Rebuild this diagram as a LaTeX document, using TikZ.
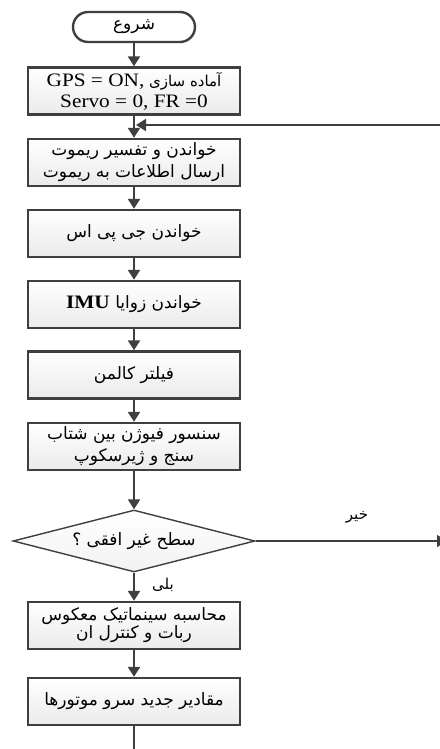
\documentclass[tikz,border=0pt]{standalone}
\usepackage{fontspec}
\newfontfamily\fa[Script=Arabic]{DejaVu Sans}
\newfontfamily\lat[FakeStretch=1.12]{Liberation Serif}
\TeXXeTstate=1
\usetikzlibrary{arrows.meta,shapes.geometric}
\definecolor{ln}{HTML}{3F3F3F}
\newcommand{\latbig}{\lat\fontsize{19}{21}\selectfont}
\tikzset{
  base/.style={draw=ln, line width=2.4pt, text=black, font=\fa\fontsize{17}{22}\selectfont, align=center, inner sep=0pt},
  procbox/.style={base, rectangle, minimum width=212pt, minimum height=47pt, top color=white, bottom color=black!8},
  term/.style={base, rectangle, rounded corners=15pt, minimum width=122pt, minimum height=30pt, fill=white},
  decision/.style={base, diamond, aspect=3.9, minimum width=242pt, minimum height=62pt, top color=white, bottom color=black!5, line width=1.4pt},
  arr/.style={draw=ln, line width=2.4pt, -{Triangle[width=12pt,length=10pt]}},
  plainline/.style={draw=ln, line width=2.4pt},
  lbl/.style={font=\fa\fontsize{15}{16}\selectfont, inner sep=0pt}
}
\begin{document}
\begin{tikzpicture}[x=1pt,y=-1pt]
\useasboundingbox (0,0) rectangle (439,749);
\node[term] (start) at (134,27) {\beginR شروع\endR};
\node[procbox] (init) at (134,91) {{\fontsize{15}{19}\selectfont\beginR آماده سازی \beginL{\latbig GPS = ON,}\endL\endR}\\[-1pt]{\latbig Servo = 0, FR =0}};
\node[procbox] (remote) at (134,162.5) {\beginR خواندن و تفسیر ریموت\endR\\\beginR ارسال اطلاعات به ریموت\endR};
\node[procbox] (gps) at (134,233.5) {\beginR خواندن جی پی اس\endR};
\node[procbox] (imu) at (134,304.5) {\beginR خواندن زوایا \beginL{\latbig\bfseries IMU}\endL\endR};
\node[procbox] (kalman) at (134,375) {\beginR فیلتر کالمن\endR};
\node[procbox] (fusion) at (134,446.5) {\beginR سنسور فیوژن بین شتاب\endR\\\beginR سنج و ژیرسکوپ\endR};
\node[decision] (dec) at (134,541) {\beginR سطح غیر افقی ؟\endR};
\node[procbox] (kin) at (134,625.5) {\beginR محاسبه سینماتیک معکوس\endR\\[-4pt]\beginR ربات و کنترل ان\endR};
\node[procbox] (servo) at (134,701.5) {\beginR مقادیر جدید سرو موتورها\endR};
\node[lbl] (no) at (357,517) {\beginR خیر\endR};
\node[lbl] (yes) at (163,585) {\beginR بلی\endR};
\coordinate (fbR) at (445,125);
\coordinate (fbL) at (136,125);
\coordinate (noEnd) at (447,541);
\coordinate (bottomEnd) at (134,755);
\draw[arr] (start) -- (init);
\draw[arr] (init) -- (remote);
\draw[arr, line width=1.8pt] (fbR) -- (fbL);
\draw[arr] (remote) -- (gps);
\draw[arr] (gps) -- (imu);
\draw[arr] (imu) -- (kalman);
\draw[arr] (kalman) -- (fusion);
\draw[arr] (fusion) -- (dec);
\draw[arr] (dec) -- (kin);
\draw[arr] (kin) -- (servo);
\draw[arr, line width=1.4pt] (dec.east) -- (noEnd);
\draw[plainline] (servo) -- (bottomEnd);
\end{tikzpicture}
\end{document}
